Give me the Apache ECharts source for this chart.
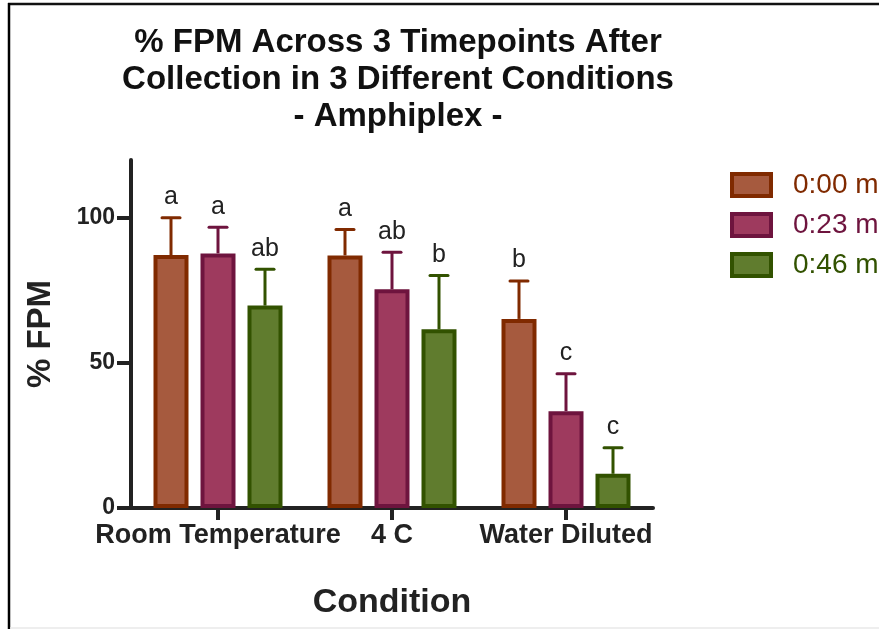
<!DOCTYPE html>
<html>
<head>
<meta charset="utf-8">
<script src="https://cdn.jsdelivr.net/npm/echarts@6/dist/echarts.min.js"></script>
<style>
html,body{margin:0;padding:0;background:#fff;}
#chart{width:879px;height:629px;}
</style>
</head>
<body>
<div id="chart"></div>
<script>
// ---- data ----
var categories = ['Room Temperature', '4 C', 'Water Diluted'];
var seriesNames = ['0:00 m', '0:23 m', '0:46 m'];
var means00 = [87.2, 87.1, 65.2];
var means23 = [87.8, 75.4, 33.4];
var means46 = [69.8, 61.6, 11.8];
var errTop00 = [100.1, 96.0, 78.3];
var errTop23 = [96.8, 88.2, 46.3];
var errTop46 = [82.3, 80.2, 20.8];
var letters00 = ['a', 'a', 'b'];
var letters23 = ['a', 'ab', 'c'];
var letters46 = ['ab', 'b', 'c'];
var yTicks = [0, 50, 100];

var fills = ['#a65a3e', '#9e3a5e', '#607c2e'];
var borders = ['#802a00', '#6e143e', '#325200'];
var FONT = '"Liberation Sans", Arial, Helvetica, sans-serif';

var means = [means00, means23, means46];
var errTops = [errTop00, errTop23, errTop46];
var letters = [letters00, letters23, letters46];

var BAR_W = 35;
var STEP = 47;       // center-to-center distance of bars in a group

var series = [];
for (var s = 0; s < 3; s++) {
  series.push({
    name: seriesNames[s],
    type: 'bar',
    data: means[s],
    barWidth: BAR_W,
    barGap: ((STEP - BAR_W) / BAR_W * 100) + '%',
    itemStyle: { color: fills[s], borderColor: borders[s], borderWidth: 4 },
    z: 2
  });
}
for (var s2 = 0; s2 < 3; s2++) {
  (function (si) {
    var d = [];
    for (var i = 0; i < categories.length; i++) d.push([i, means[si][i], errTops[si][i], letters[si][i]]);
    series.push({
      type: 'custom',
      name: 'err' + si,
      data: d,
      z: 1,
      silent: true,
      encode: { x: 0, y: 2 },
      renderItem: function (params, api) {
        var off = (si - 1) * STEP;
        var p0 = api.coord([api.value(0), api.value(1)]);
        var p1 = api.coord([api.value(0), api.value(2)]);
        var x = p0[0] + off;
        var capHalf = 9;
        return {
          type: 'group',
          children: [
            { type: 'line', shape: { x1: x, y1: p0[1], x2: x, y2: p1[1] }, style: { stroke: borders[si], lineWidth: 3 } },
            { type: 'line', shape: { x1: x - capHalf, y1: p1[1], x2: x + capHalf, y2: p1[1] }, style: { stroke: borders[si], lineWidth: 3, lineCap: 'round' } },
            { type: 'text', x: x, y: p1[1] - 8, style: { text: api.value(3), font: '25px ' + FONT, fill: '#222', align: 'center', verticalAlign: 'bottom' } }
          ]
        };
      }
    });
  })(s2);
}

var chart = echarts.init(document.getElementById('chart'), null, { renderer: 'canvas' });
chart.setOption({
  backgroundColor: '#fff',
  animation: false,
  title: {
    text: '% FPM Across 3 Timepoints After\nCollection in 3 Different Conditions\n- Amphiplex -',
    left: 393, top: 19, textAlign: 'center',
    textStyle: { fontFamily: FONT, fontSize: 33, fontWeight: 'bold', color: '#111', lineHeight: 37 }
  },
  legend: {
    orient: 'vertical',
    left: 730, top: 171, padding: 0,
    itemWidth: 39, itemHeight: 22, itemGap: 12,
    textStyle: { fontFamily: FONT, fontSize: 28, padding: [0, 0, 0, 17] },
    data: seriesNames.map(function (n, i) {
      return { name: n, icon: 'rect', itemStyle: { color: fills[i], borderColor: borders[i], borderWidth: 4 }, textStyle: { color: borders[i] } };
    })
  },
  grid: { left: 131, right: 226, top: 160, bottom: 121, containLabel: false },
  xAxis: {
    type: 'category',
    data: categories,
    name: 'Condition',
    nameLocation: 'middle',
    nameGap: 78,
    nameTextStyle: { fontFamily: FONT, fontSize: 34, fontWeight: 'bold', color: '#222' },
    axisLine: { show: true, lineStyle: { color: '#222', width: 4 } },
    axisTick: { show: true, alignWithLabel: true, length: 12, lineStyle: { color: '#222', width: 4 } },
    axisLabel: { fontFamily: FONT, fontSize: 27, fontWeight: 'bold', color: '#222', margin: 14, interval: 0 }
  },
  yAxis: {
    type: 'value',
    min: 0, max: 120, interval: 50,
    name: '% FPM',
    nameLocation: 'middle',
    nameGap: 74,
    nameRotate: 90,
    nameTextStyle: { fontFamily: FONT, fontSize: 33, fontWeight: 'bold', color: '#222' },
    splitLine: { show: false },
    axisLine: { show: true, lineStyle: { color: '#222', width: 4 } },
    axisTick: { show: true, length: 14, lineStyle: { color: '#222', width: 4 }, customValues: yTicks },
    axisLabel: { fontFamily: FONT, fontSize: 23, fontWeight: 'bold', color: '#222', margin: 16, customValues: yTicks }
  },
  graphic: [
    { type: 'line', shape: { x1: 8, y1: 4, x2: 879, y2: 4 }, style: { stroke: '#111', lineWidth: 2.5 } },
    { type: 'line', shape: { x1: 9, y1: 3, x2: 9, y2: 629 }, style: { stroke: '#000', lineWidth: 2.5 } },
    { type: 'line', shape: { x1: 10, y1: 628, x2: 879, y2: 628 }, style: { stroke: '#e8e8e8', lineWidth: 1.5 } }
  ],
  series: series
});
</script>
</body>
</html>
